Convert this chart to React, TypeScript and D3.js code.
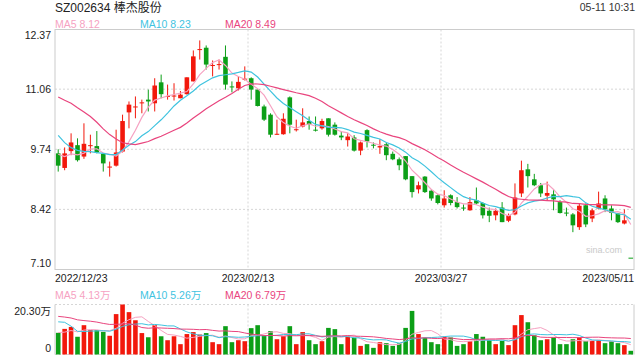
import * as d3 from "d3";

// ── Data ──────────────────────────────────────────────────────────────────────

const OPEN = [
  9.65, 9.33, 9.70, 9.83, 9.58, 9.82, 9.81, 9.64, 9.35, 9.38,
  9.69, 10.55, 10.67, 10.76, 10.83, 10.75, 11.21, 10.90, 10.91, 10.86,
  10.95, 11.23, 11.93, 11.97, 11.58, 11.60, 11.77, 11.12, 11.08, 11.28,
  11.30, 11.05, 10.68, 10.50, 10.07, 10.07, 10.88, 10.17, 10.24, 10.36,
  10.17, 10.20, 10.42, 10.28, 10.04, 9.94, 10.00, 9.71, 10.16, 9.84,
  9.78, 9.85, 9.64, 9.52, 9.59, 9.15, 8.86, 9.14, 8.83, 8.73,
  8.51, 8.73, 8.58, 8.46, 8.40, 8.62, 8.56, 8.39, 8.29, 8.46,
  8.17, 8.31, 8.77, 9.30, 9.08, 8.95, 8.72, 8.75, 8.58, 8.35,
  8.31, 8.03, 8.51, 8.22, 8.44, 8.66, 8.44, 8.33, 8.11, 7.36,
];
const HIGH = [
  9.74, 9.78, 10.09, 9.98, 10.31, 10.06, 10.14, 9.64, 9.47, 10.17,
  10.50, 10.79, 10.90, 10.83, 11.05, 11.30, 11.38, 11.16, 11.19, 11.02,
  11.32, 11.91, 12.13, 12.02, 11.69, 11.71, 12.02, 11.23, 11.34, 11.56,
  11.32, 11.05, 10.72, 10.53, 10.39, 10.53, 10.90, 10.39, 10.64, 10.46,
  10.46, 10.41, 10.42, 10.33, 10.13, 10.09, 10.05, 9.91, 10.18, 9.89,
  9.96, 9.89, 9.69, 9.56, 9.59, 9.15, 9.03, 9.15, 8.86, 8.75,
  8.84, 8.75, 8.69, 8.53, 8.69, 8.90, 8.58, 8.46, 8.44, 8.58,
  8.33, 8.99, 9.49, 9.42, 9.20, 9.00, 9.03, 8.84, 8.62, 8.46,
  8.34, 8.55, 8.55, 8.44, 8.81, 8.73, 8.51, 8.33, 8.42, 7.36,
];
const LOW = [
  9.25, 9.28, 9.61, 9.47, 9.53, 9.65, 9.65, 9.25, 9.14, 9.36,
  9.67, 10.20, 10.42, 10.53, 10.57, 10.57, 10.86, 10.83, 10.81, 10.86,
  10.94, 11.23, 11.71, 11.49, 11.34, 11.49, 11.05, 10.99, 11.03, 11.25,
  10.83, 10.68, 10.36, 10.00, 10.06, 10.06, 10.09, 10.13, 10.22, 10.17,
  10.13, 10.17, 10.02, 10.04, 9.94, 9.80, 9.69, 9.61, 9.78, 9.76,
  9.64, 9.50, 9.50, 9.28, 9.06, 8.68, 8.77, 8.78, 8.61, 8.53,
  8.46, 8.51, 8.44, 8.39, 8.39, 8.53, 8.22, 8.14, 8.18, 8.14,
  8.14, 8.29, 8.69, 8.90, 8.93, 8.69, 8.62, 8.40, 8.33, 8.27,
  7.92, 7.97, 8.03, 8.14, 8.42, 8.36, 8.18, 8.12, 8.09, 7.36,
];
const CLOSE = [
  9.38, 9.65, 9.89, 9.50, 9.86, 9.83, 9.67, 9.43, 9.36, 9.67,
  10.36, 10.72, 10.68, 10.77, 10.79, 11.14, 10.95, 10.91, 10.92, 10.94,
  11.32, 11.78, 11.94, 11.60, 11.59, 11.61, 11.16, 11.11, 11.22, 11.29,
  11.05, 10.69, 10.39, 10.06, 10.08, 10.41, 10.28, 10.18, 10.33, 10.28,
  10.16, 10.36, 10.06, 10.06, 10.00, 10.02, 9.71, 9.89, 9.91, 9.83,
  9.81, 9.61, 9.52, 9.39, 9.08, 8.80, 8.95, 8.80, 8.66, 8.56,
  8.66, 8.56, 8.47, 8.45, 8.58, 8.55, 8.29, 8.28, 8.39, 8.14,
  8.29, 8.68, 9.28, 9.15, 8.95, 8.77, 8.78, 8.64, 8.34, 8.34,
  8.07, 8.50, 8.09, 8.40, 8.55, 8.42, 8.34, 8.14, 8.18, 7.36,
];
// 万
const VOLUME = [
  8.8, 10.4, 11.2, 7.2, 11.9, 9.9, 9.9, 9.2, 7.6, 16.4,
  20.3, 17.2, 13.9, 8.7, 7.0, 11.9, 7.4, 5.8, 7.4, 4.2,
  8.3, 9.1, 8.1, 8.7, 5.0, 4.2, 11.5, 5.0, 5.8, 5.4,
  10.7, 11.9, 7.8, 9.5, 6.2, 7.4, 11.5, 4.2, 9.1, 5.8,
  4.2, 5.4, 10.8, 10.3, 4.2, 7.2, 6.8, 3.5, 4.2, 2.7,
  5.0, 4.6, 3.5, 4.5, 10.8, 17.7, 8.3, 6.8, 5.0, 4.2,
  7.2, 6.9, 3.5, 4.2, 5.4, 8.3, 7.2, 5.8, 4.2, 5.5,
  3.8, 11.9, 16.0, 13.1, 7.8, 5.8, 6.2, 6.9, 4.2, 4.2,
  6.2, 6.9, 5.5, 5.5, 5.8, 4.6, 5.4, 4.6, 3.8, 1.5,
];

// sessions before the first visible day, needed for the moving averages
const PRE_CLOSE = [
  11.1, 11.2, 11.5, 11.7, 11.8, 12.2, 12.3, 11.9, 11.6, 12.0,
  11.25, 10.99, 10.08, 10.08, 9.9, 9.9, 9.6, 9.6, 9.67,
];
const PRE_VOLUME = [
  16, 19, 22, 18, 15, 17, 20, 16, 15, 19,
  12.4, 27, 28, 12.9, 7.9, 9.5, 8.0, 9.8, 8.4,
];

const DATE_LABELS = ["2022/12/23", "2023/02/13", "2023/03/27", "2023/05/11"];
const PRICE_TICKS = [12.37, 11.06, 9.74, 8.42, 7.1];
const VOL_MAX = 20.3;
const VOL_TICKS = ["20.30万", "0"];

const MA_NAMES = ["MA5", "MA10", "MA20"];
const MA_PERIODS = [5, 10, 20];
const PRICE_MA_TEXT = ["8.12", "8.23", "8.49"];
const VOL_MA_TEXT = ["4.13万", "5.26万", "6.79万"];

// ── Tokens ────────────────────────────────────────────────────────────────────

const UP = "#f2180c";
const DOWN = "#0c9f17";
const MA_COLORS = ["#f6a2c2", "#3fc3df", "#e9457e"];
const GRID = "#d6d6d6";
const FRAME = "#cccccc";
const FONT = "'Liberation Sans', Arial, 'Noto Sans CJK SC', sans-serif";

const W = 640, H = 360;
const L = 55, R = 634;
const P_TOP = 29.5, P_BOT = 269.5;
const V_TOP = 304.5, V_BOT = 354.5;

function movingAvg(pre: number[], vals: number[], n: number) {
  const all = pre.concat(vals);
  return vals.map((_, i) => d3.mean(all.slice(i + pre.length - n + 1, i + pre.length + 1))!);
}

export default function App() {
  const idx = d3.range(CLOSE.length);
  const x = d3.scaleBand<number>().domain(idx).range([L, R]);
  const cx = (i: number) => x(i)! + x.bandwidth() / 2;
  const bw = 4.6;

  const y = d3.scaleLinear().domain([7.1, 12.37]).range([P_BOT, P_TOP]);
  const yv = d3.scaleLinear().domain([0, VOL_MAX]).range([V_BOT, V_TOP]);

  const isUp = (i: number) =>
    CLOSE[i] > OPEN[i] || (CLOSE[i] === OPEN[i] && i > 0 && CLOSE[i] >= CLOSE[i - 1]);

  const priceLine = d3.line<number>().x((_, i) => cx(i)).y(d => y(d));
  const volLine = d3.line<number>().x((_, i) => cx(i)).y(d => yv(d));

  const priceMA = MA_PERIODS.map(n => movingAvg(PRE_CLOSE, CLOSE, n));
  const volMA = MA_PERIODS.map(n => movingAvg(PRE_VOLUME, VOLUME, n));

  const thirds = [L + (R - L) / 3, L + (2 * (R - L)) / 3];
  const legendX = [55, 140, 225];

  return (
    <svg
      width={W}
      height={H}
      style={{ position: "fixed", left: 0, top: 0, background: "#fff" }}
      fontFamily={FONT}
    >
      {/* header */}
      <text x={55} y={12} fontSize={12} fill="#222">SZ002634 棒杰股份</text>
      <text x={635} y={11} fontSize={10.5} fill="#333" textAnchor="end">05-11 10:31</text>
      {MA_NAMES.map((m, k) => (
        <text key={m} x={legendX[k]} y={27.5} fontSize={10.5} fill={MA_COLORS[k]}>
          {m} {PRICE_MA_TEXT[k]}
        </text>
      ))}

      {/* price grid */}
      {PRICE_TICKS.slice(1, -1).map(t => (
        <line key={t} x1={L} x2={R} y1={y(t)} y2={y(t)} stroke={GRID} strokeDasharray="2,2" />
      ))}
      {thirds.map(t => (
        <line key={t} x1={t} x2={t} y1={P_TOP} y2={P_BOT} stroke={GRID} strokeDasharray="2,2" />
      ))}
      <rect x={L} y={P_TOP} width={R - L} height={P_BOT - P_TOP} fill="none" stroke={FRAME} />

      {PRICE_TICKS.map((t, k) => (
        <text
          key={t}
          x={51}
          y={k === 0 ? y(t) + 9.5 : k === PRICE_TICKS.length - 1 ? y(t) - 2.5 : y(t) + 3.8}
          fontSize={10.5}
          fill="#222"
          textAnchor="end"
        >
          {t.toFixed(2)}
        </text>
      ))}

      <text x={622} y={253} fontSize={9} fill="#c9c9c9" textAnchor="end">sina.com</text>

      {/* candles */}
      {idx.map(i => {
        const c = isUp(i) ? UP : DOWN;
        const top = y(Math.max(OPEN[i], CLOSE[i]));
        const h = Math.max(1, Math.abs(y(OPEN[i]) - y(CLOSE[i])));
        return (
          <g key={i}>
            <line x1={cx(i)} x2={cx(i)} y1={y(HIGH[i])} y2={y(LOW[i])} stroke={c} strokeWidth={1} />
            <rect x={cx(i) - bw / 2} y={top} width={bw} height={h} fill={c} />
          </g>
        );
      })}

      {/* price moving averages */}
      {priceMA.map((s, k) => (
        <path key={k} d={priceLine(s)!} fill="none" stroke={MA_COLORS[k]} strokeWidth={1.2} />
      ))}

      {/* date labels */}
      {DATE_LABELS.map((d, k) => (
        <text
          key={d}
          x={k === 0 ? L : k === 3 ? R : thirds[k - 1]}
          y={282}
          fontSize={10.5}
          fill="#222"
          textAnchor={k === 0 ? "start" : k === 3 ? "end" : "middle"}
        >
          {d}
        </text>
      ))}

      {/* volume panel */}
      {MA_NAMES.map((m, k) => (
        <text key={m} x={legendX[k]} y={298.5} fontSize={10.5} fill={MA_COLORS[k]}>
          {m} {VOL_MA_TEXT[k]}
        </text>
      ))}
      <line x1={L} x2={R} y1={V_TOP} y2={V_TOP} stroke={GRID} strokeDasharray="2,2" />
      <line x1={L} x2={R} y1={V_BOT} y2={V_BOT} stroke={GRID} strokeDasharray="2,2" />
      {thirds.map(t => (
        <line key={t} x1={t} x2={t} y1={V_TOP} y2={V_BOT} stroke={GRID} strokeDasharray="2,2" />
      ))}
      <line x1={L} x2={L} y1={V_TOP} y2={V_BOT} stroke={FRAME} />
      <line x1={R} x2={R} y1={V_TOP} y2={V_BOT} stroke={FRAME} />
      <text x={51} y={V_TOP + 10} fontSize={10.5} fill="#222" textAnchor="end">{VOL_TICKS[0]}</text>
      <text x={51} y={V_BOT - 3} fontSize={10.5} fill="#222" textAnchor="end">{VOL_TICKS[1]}</text>

      {idx.map(i => (
        <rect
          key={i}
          x={cx(i) - bw / 2}
          y={yv(VOLUME[i])}
          width={bw}
          height={V_BOT - yv(VOLUME[i])}
          fill={isUp(i) ? UP : DOWN}
        />
      ))}
      {volMA.map((s, k) => (
        <path key={k} d={volLine(s)!} fill="none" stroke={MA_COLORS[k]} strokeWidth={1} />
      ))}
    </svg>
  );
}
